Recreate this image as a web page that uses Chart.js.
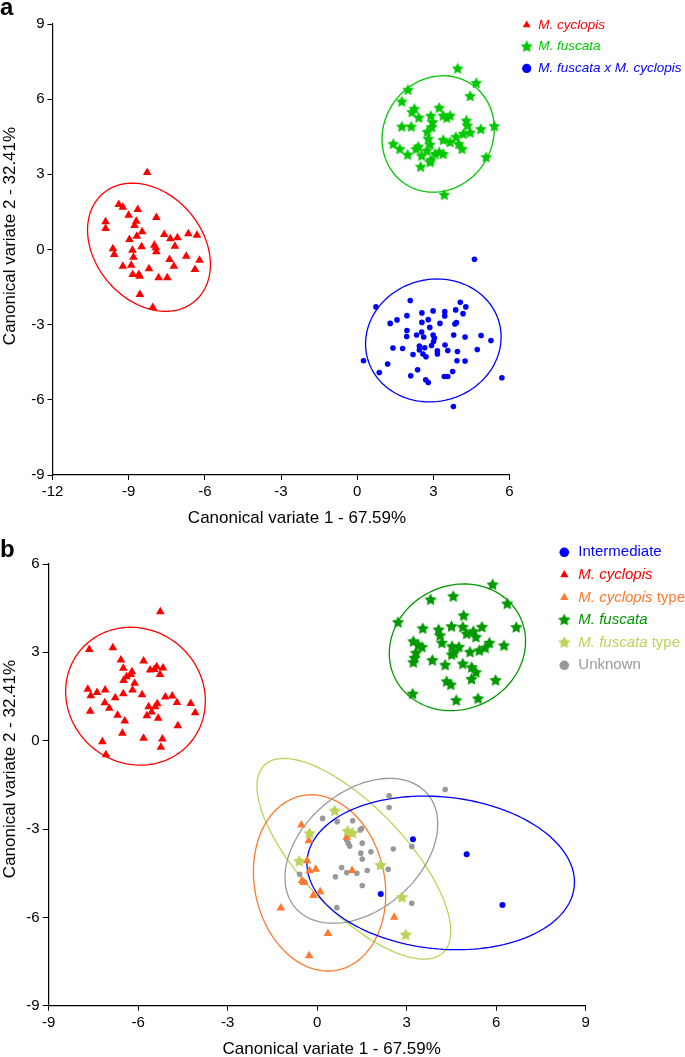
<!DOCTYPE html>
<html>
<head>
<meta charset="utf-8">
<script src="https://cdn.jsdelivr.net/npm/chart.js@4.4.0/dist/chart.umd.min.js"></script>
<style>
  body { margin: 0; background: #fff; }
  #wrapA { position: absolute; left: 0; top: 0; width: 685px; height: 530px; }
  #wrapB { position: absolute; left: 0; top: 530px; width: 685px; height: 527px; }
</style>
</head>
<body>
<div id="wrapA"><canvas id="chartA" width="685" height="530"></canvas></div>
<div id="wrapB"><canvas id="chartB" width="685" height="527"></canvas></div>
<script>
// ---- panel a data ----
const xTicksA = [-12, -9, -6, -3, 0, 3, 6];
const yTicksA = [-9, -6, -3, 0, 3, 6, 9];

const cyclopisA = [[-8.27,3.07],[-9.39,1.8],[-9.23,1.69],[-8.64,1.6],[-9.0,1.37],[-7.91,1.28],[-9.91,1.11],[-9.91,0.84],
  [-8.7,1.13],[-8.77,0.96],[-8.47,0.71],[-8.68,0.53],[-8.97,0.4],[-7.6,0.6],[-7.36,0.43],[-7.08,0.47],[-6.65,0.63],
  [-6.31,0.57],[-8.49,0.11],[-7.99,0.17],[-7.93,0.07],[-7.91,-0.09],[-7.18,0.13],[-9.62,0.03],[-9.57,-0.2],[-8.85,-0.03],
  [-8.81,-0.31],[-7.39,-0.4],[-6.73,-0.27],[-6.21,-0.43],[-7.22,-0.67],[-6.39,-0.8],[-9.23,-0.67],[-8.9,-0.63],[-8.2,-0.77],
  [-8.84,-1.0],[-8.6,-1.0],[-8.57,-1.07],[-7.82,-1.13],[-7.48,-1.13],[-8.56,-1.8],[-8.05,-2.31]];

const fuscataA = [[3.96,7.21],[4.69,6.63],[2.0,6.36],[4.45,6.11],[1.76,5.89],[2.25,5.6],[2.16,5.47],[3.23,5.64],[2.43,5.25],
  [2.9,5.32],[2.97,5.07],[3.39,5.33],[3.66,5.33],[3.53,5.24],[4.3,5.13],[4.34,4.93],[4.87,4.79],[5.4,4.91],[1.76,4.89],
  [2.13,4.89],[2.76,4.68],[2.93,4.87],[3.89,4.48],[4.18,4.6],[4.45,4.65],[2.8,4.4],[3.39,4.36],[4.0,4.2],[4.13,4.0],
  [1.42,4.2],[1.68,4.0],[1.99,3.77],[2.41,4.09],[2.74,3.93],[2.87,4.17],[3.07,3.8],[3.39,3.8],[2.54,3.73],[2.9,3.56],
  [2.5,3.29],[3.23,3.87],[5.08,3.67],[3.43,2.17],[3.66,4.27],[2.87,3.47],[2.32,4.0]];

const hybridA = [[4.62,-0.39],[2.09,-2.04],[0.74,-2.29],[4.06,-2.11],[4.28,-2.29],[2.55,-2.53],[2.99,-2.45],[3.45,-2.48],
  [3.45,-2.65],[3.88,-2.41],[4.17,-2.56],[1.96,-2.64],[1.57,-2.81],[1.3,-2.95],[2.55,-2.91],[2.8,-2.8],[3.26,-2.95],
  [3.85,-2.97],[3.91,-2.92],[2.86,-3.11],[1.96,-3.23],[2.54,-3.29],[2.99,-3.41],[1.95,-3.47],[2.34,-3.41],[2.62,-3.49],
  [3.04,-3.53],[3.8,-3.41],[4.25,-3.49],[4.88,-3.43],[5.27,-3.63],[3.01,-3.67],[2.93,-3.83],[3.46,-3.81],[2.45,-3.85],
  [2.66,-3.92],[2.45,-4.01],[1.41,-3.93],[1.79,-3.95],[3.57,-4.03],[3.95,-4.07],[4.73,-3.99],[2.2,-4.19],[2.59,-4.17],
  [2.71,-4.28],[3.16,-4.04],[3.16,-4.17],[3.93,-4.44],[4.25,-4.45],[0.25,-4.44],[1.2,-4.57],[0.87,-4.91],[2.38,-4.8],
  [3.76,-4.87],[2.11,-5.04],[3.43,-5.07],[3.57,-5.07],[2.7,-5.2],[2.8,-5.31],[5.7,-5.12],[3.79,-6.27]];

// ellipses: [centre x, centre y, semi axis a, semi axis b, angle deg, colour]
const ellipsesA = [
  [-8.2, 0.09, 2.81, 2.12, -50.8, '#ff0000'],
  [3.19, 4.61, 2.38, 2.15, 59.8, '#00c800'],
  [3.0, -3.63, 2.69, 2.43, 16.7, '#0000ff']
];

const legendA = [
  { shape: 'triangle', color: '#ff0000', parts: [['M. cyclopis', true]] },
  { shape: 'star', color: '#00c800', parts: [['M. fuscata', true]] },
  { shape: 'circle', color: '#0000ff', parts: [['M. fuscata x M. cyclopis', true]] }
];

// ---- panel b data ----
const xTicksB = [-9, -6, -3, 0, 3, 6, 9];
const yTicksB = [-9, -6, -3, 0, 3, 6];

const intermediateB = [[3.21,-3.35],[5.01,-3.86],[6.21,-5.58],[2.13,-5.21]];

const cyclopisB = [[-5.26,4.38],[-7.64,3.1],[-6.85,3.16],[-6.58,2.74],[-5.82,2.71],[-6.5,2.46],[-6.21,2.34],[-6.25,2.25],
  [-6.39,2.17],[-6.49,2.04],[-5.6,2.4],[-5.46,2.42],[-5.38,2.51],[-5.17,2.47],[-5.27,2.25],[-6.12,1.95],[-6.19,1.72],
  [-7.69,1.75],[-7.59,1.53],[-7.38,1.64],[-7.11,1.72],[-6.5,1.59],[-5.87,1.56],[-6.77,1.46],[-5.09,1.48],[-4.86,1.52],
  [-4.7,1.3],[-4.24,1.26],[-4.09,0.95],[-7.12,1.29],[-6.97,1.1],[-7.61,1.0],[-5.65,1.15],[-5.36,1.25],[-5.43,1.15],
  [-5.55,0.97],[-5.71,0.85],[-6.69,0.86],[-6.45,0.67],[-5.33,0.76],[-4.67,0.51],[-6.53,0.25],[-5.82,0.08],[-5.19,0.06],
  [-5.24,-0.22],[-7.2,-0.04],[-7.08,-0.48]];

const cyclopisTypeB = [[-0.53,-2.86],[-0.28,-3.4],[0.99,-3.28],[-0.34,-4.08],[-0.26,-4.42],[-0.05,-4.37],[1.17,-4.41],
  [-0.51,-4.76],[-0.45,-4.82],[0.1,-5.13],[-0.13,-5.26],[-1.22,-5.68],[2.58,-6.0],[0.36,-6.55],[-0.27,-7.3]];

const fuscataB = [[5.88,5.29],[4.56,4.89],[3.8,4.78],[6.37,4.64],[2.71,4.01],[4.91,4.24],[6.67,3.84],[3.54,3.8],[4.07,3.76],
  [4.5,3.87],[4.88,3.85],[5.52,3.85],[5.01,3.62],[5.23,3.7],[5.32,3.51],[4.12,3.56],[4.18,3.31],[3.22,3.36],[3.39,3.23],
  [3.51,3.17],[4.52,3.19],[4.75,3.17],[4.59,2.97],[4.51,2.91],[5.12,3.0],[5.43,3.05],[5.63,3.14],[5.77,3.31],[6.26,3.22],
  [3.31,2.97],[3.26,2.8],[3.22,2.65],[3.86,2.72],[4.29,2.56],[4.88,2.6],[5.18,2.48],[5.32,2.31],[5.17,2.08],[4.34,2.0],
  [4.48,1.89],[5.98,2.04],[3.2,1.58],[4.66,1.36],[5.39,1.42]];

const fuscataTypeB = [[0.59,-2.39],[-0.26,-3.16],[1.02,-3.08],[1.18,-3.15],[-0.6,-4.1],[2.12,-4.24],[2.84,-5.33],[2.97,-6.6]];

const unknownB = [[4.29,-1.66],[2.41,-1.87],[2.41,-2.27],[0.18,-2.64],[0.67,-2.75],[1.19,-2.72],[1.49,-2.98],[1.44,-3.03],
  [0.99,-3.37],[1.04,-3.48],[1.09,-3.58],[1.51,-3.48],[1.8,-3.77],[1.46,-3.82],[1.51,-4.02],[2.55,-3.68],[3.17,-3.59],
  [0.82,-4.31],[0.99,-4.48],[1.33,-4.5],[1.68,-4.41],[0.61,-4.62],[2.38,-4.37],[1.51,-4.92],[-0.59,-4.54],[-0.41,-4.81],
  [0.66,-5.67],[3.17,-5.52]];

const ellipsesB = [
  [-6.09, 1.51, 2.42, 2.26, -45, '#ff0000'],
  [4.7, 3.17, 2.34, 2.09, 29, '#009900'],
  [1.23, -4.01, 4.37, 1.75, -46.9, '#bcd35a'],
  [0.08, -4.83, 3.02, 2.18, -78.7, '#ff7a2e'],
  [1.48, -3.74, 2.94, 1.99, 41.9, '#999999'],
  [4.14, -4.49, 4.5, 2.58, -6, '#0000ff']
];

const legendB = [
  { shape: 'circle', color: '#0000ff', parts: [['Intermediate', false]] },
  { shape: 'triangle', color: '#ff0000', parts: [['M. cyclopis', true]] },
  { shape: 'triangle', color: '#ff7a2e', parts: [['M. cyclopis', true], [' type', false]] },
  { shape: 'star', color: '#009900', parts: [['M. fuscata', true]] },
  { shape: 'star', color: '#bcd35a', parts: [['M. fuscata', true], [' type', false]] },
  { shape: 'circle', color: '#999999', parts: [['Unknown', false]] }
];

const xTitle = 'Canonical variate 1 - 67.59%';
const yTitle = 'Canonical variate 2 - 32.41%';

// ---- helpers ----
const FONT = "'Liberation Sans', Arial, sans-serif";

function toXY(arr) {
    return arr.map(p => ({ x: p[0], y: p[1] }));
}

function starImage(color, rOut, rIn) {
    let size = Math.ceil(rOut * 2) + 2;
    let c = document.createElement('canvas');
    c.width = size; c.height = size;
    let g = c.getContext('2d');
    g.fillStyle = color;
    g.beginPath();
    for (let k = 0; k < 10; k++) {
        let r = k % 2 ? rIn : rOut;
        let ang = -Math.PI / 2 + k * Math.PI / 5;
        let px = size / 2 + r * Math.cos(ang), py = size / 2 + r * Math.sin(ang);
        if (k === 0) g.moveTo(px, py); else g.lineTo(px, py);
    }
    g.closePath();
    g.fill();
    return c;
}

function drawShape(ctx, shape, color, x, y, r) {
    ctx.fillStyle = color;
    ctx.beginPath();
    if (shape === 'circle') {
        ctx.arc(x, y, r, 0, Math.PI * 2);
        ctx.fill();
    } else if (shape === 'triangle') {
        for (let k = 0; k < 3; k++) {
            let a = k * 2 * Math.PI / 3;
            let px = x + Math.sin(a) * r, py = y - Math.cos(a) * r;
            if (k === 0) ctx.moveTo(px, py); else ctx.lineTo(px, py);
        }
        ctx.closePath();
        ctx.fill();
    } else {
        let img = starImage(color, r, r * 0.5);
        ctx.drawImage(img, x - img.width / 2, y - img.height / 2);
    }
}

function scatterSet(arr, shape, color, r) {
    return {
        data: toXY(arr),
        pointStyle: shape === 'star' ? starImage(color, r, r * 0.5) : shape,
        pointRadius: r,
        pointBackgroundColor: color,
        pointBorderColor: color,
        pointBorderWidth: 0,
        showLine: false
    };
}

// draws ellipses, legend, axis titles and the panel letter
function panelPlugin(cfg) {
    return {
        id: 'panel' + cfg.letter,
        beforeDatasetsDraw(chart) {
            let ctx = chart.ctx, xs = chart.scales.x, ys = chart.scales.y;
            ctx.save();
            cfg.ellipses.forEach(e => {
                let [cx, cy, a, b, deg, col] = e;
                let th = deg * Math.PI / 180;
                ctx.beginPath();
                for (let i = 0; i <= 160; i++) {
                    let t = i / 160 * Math.PI * 2;
                    let ex = cx + a * Math.cos(t) * Math.cos(th) - b * Math.sin(t) * Math.sin(th);
                    let ey = cy + a * Math.cos(t) * Math.sin(th) + b * Math.sin(t) * Math.cos(th);
                    let px = xs.getPixelForValue(ex), py = ys.getPixelForValue(ey);
                    if (i === 0) ctx.moveTo(px, py); else ctx.lineTo(px, py);
                }
                ctx.strokeStyle = col;
                ctx.lineWidth = 1.3;
                ctx.stroke();
            });
            ctx.restore();
        },
        afterDraw(chart) {
            let ctx = chart.ctx;
            ctx.save();
            // legend
            cfg.legend.forEach((item, i) => {
                let y = cfg.legY + i * cfg.legStep;
                drawShape(ctx, item.shape, item.color, cfg.legSymX, y, item.shape === 'star' ? cfg.legSym + 1.8 : cfg.legSym);
                let x = cfg.legTextX;
                ctx.fillStyle = item.color;
                ctx.textBaseline = 'middle';
                ctx.textAlign = 'left';
                item.parts.forEach(p => {
                    ctx.font = (p[1] ? 'italic ' : '') + cfg.legFont + 'px ' + FONT;
                    ctx.fillText(p[0], x, y);
                    x += ctx.measureText(p[0]).width;
                });
            });
            // axis titles
            ctx.fillStyle = '#000';
            ctx.font = '17px ' + FONT;
            ctx.textAlign = 'center';
            ctx.textBaseline = 'middle';
            ctx.fillText(xTitle, cfg.xTitleX, cfg.xTitleY);
            ctx.translate(cfg.yTitleX, cfg.yTitleY);
            ctx.rotate(-Math.PI / 2);
            ctx.fillText(yTitle, 0, 0);
            ctx.setTransform(1, 0, 0, 1, 0, 0);
            // panel letter
            ctx.font = 'bold 24px ' + FONT;
            ctx.textAlign = 'left';
            ctx.textBaseline = 'alphabetic';
            ctx.fillText(cfg.letter, 0, cfg.letterY);
            ctx.restore();
        }
    };
}

function makeOptions(cfg) {
    let axis = (ticks, fit, len) => ({
        type: 'linear',
        min: ticks[0],
        max: ticks[ticks.length - 1],
        afterBuildTicks: s => { s.ticks = ticks.map(v => ({ value: v })); },
        afterFit: fit,
        ticks: { color: '#000', font: { family: FONT, size: 15 }, padding: 3, maxRotation: 0, autoSkip: false },
        grid: { display: true, drawOnChartArea: false, drawTicks: true, tickLength: len, color: '#000', lineWidth: 1 },
        border: { display: true, color: '#000', width: 1.2 }
    });
    return {
        responsive: false,
        animation: false,
        events: [],
        layout: { padding: { left: 0, right: cfg.padRight, top: cfg.padTop, bottom: 0 } },
        plugins: { legend: { display: false }, tooltip: { enabled: false } },
        scales: {
            x: axis(cfg.xTicks, s => { s.height = cfg.xH; }, 5),
            y: axis(cfg.yTicks, s => { s.width = cfg.yW; }, cfg.yTick)
        }
    };
}

// ---- panel a ----
const cfgA = {
    letter: 'a', letterY: 15,
    xTicks: xTicksA, yTicks: yTicksA,
    padRight: 175.5, padTop: 24, xH: 55, yW: 52.5, yTick: 5,
    ellipses: ellipsesA, legend: legendA,
    legY: 25, legStep: 21.7, legSymX: 526.7, legTextX: 538.3, legFont: 13.5, legSym: 4.6,
    xTitleX: 297, xTitleY: 518, yTitleX: 10, yTitleY: 236
};
new Chart(document.getElementById('chartA'), {
    type: 'scatter',
    data: {
        datasets: [
            scatterSet(cyclopisA, 'triangle', '#ff0000', 5),
            scatterSet(fuscataA, 'star', '#00c800', 6.2),
            scatterSet(hybridA, 'circle', '#0000ff', 2.8)
        ]
    },
    options: makeOptions(cfgA),
    plugins: [panelPlugin(cfgA)]
});

// ---- panel b ----
const cfgB = {
    letter: 'b', letterY: 26.5,
    xTicks: xTicksB, yTicks: yTicksB,
    padRight: 99.3, padTop: 34, xH: 51.3, yW: 48.7, yTick: 6,
    ellipses: ellipsesB, legend: legendB,
    legY: 22.3, legStep: 22.6, legSymX: 564.3, legTextX: 578.3, legFont: 15, legSym: 4.8,
    xTitleX: 331.7, xTitleY: 519, yTitleX: 10, yTitleY: 239
};
new Chart(document.getElementById('chartB'), {
    type: 'scatter',
    data: {
        datasets: [
            scatterSet(intermediateB, 'circle', '#0000ff', 3),
            scatterSet(fuscataTypeB, 'star', '#bcd35a', 6.5),
            scatterSet(cyclopisTypeB, 'triangle', '#ff7a2e', 5),
            scatterSet(unknownB, 'circle', '#999999', 2.8),
            scatterSet(cyclopisB, 'triangle', '#ff0000', 5),
            scatterSet(fuscataB, 'star', '#009900', 6.5)
        ]
    },
    options: makeOptions(cfgB),
    plugins: [panelPlugin(cfgB)]
});
</script>
</body>
</html>
